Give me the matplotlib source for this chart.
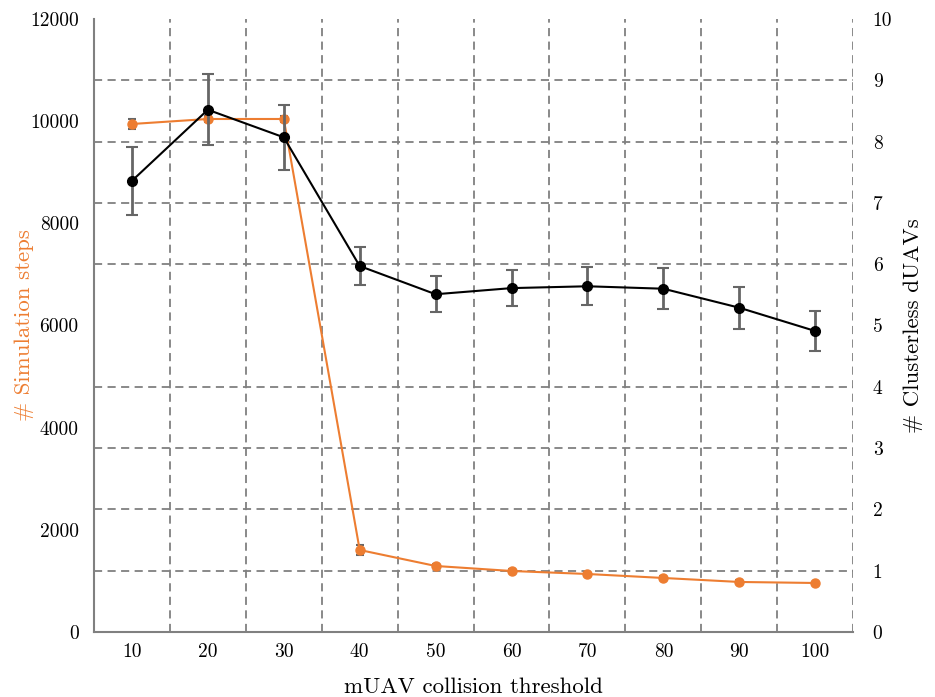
import numpy as np
import matplotlib
matplotlib.use('Agg')
import matplotlib.pyplot as plt

# collision thresholds on the x axis
thresholds = [10, 20, 30, 40, 50, 60, 70, 80, 90, 100]

# simulation steps (left axis) with std
sim_steps = [9945, 10043, 10043, 1605, 1292, 1194, 1135, 1057, 979, 959]
sim_steps_err = [100, 60, 60, 90, 40, 30, 30, 40, 30, 20]

# clusterless dUAVs (right axis) with std
clusterless = [7.36, 8.52, 8.07, 5.97, 5.51, 5.61, 5.64, 5.60, 5.29, 4.91]
clusterless_err = [0.55, 0.58, 0.53, 0.31, 0.29, 0.30, 0.31, 0.33, 0.34, 0.33]

left_ticks = [0, 2000, 4000, 6000, 8000, 10000, 12000]
right_ticks = [0, 1, 2, 3, 4, 5, 6, 7, 8, 9, 10]

orange = '#ED7D31'
grid_gray = '#808080'

plt.rcParams['font.family'] = ['cmr10', 'DejaVu Serif']
plt.rcParams['axes.formatter.use_mathtext'] = True
plt.rcParams['mathtext.fontset'] = 'cm'

fig = plt.figure(figsize=(9.35, 6.97), dpi=100)
ax1 = fig.add_axes([0.1005, 0.0933, 0.812, 0.8794])
x = np.arange(len(thresholds))

ax1.set_xlim(-0.5, len(thresholds) - 0.5)
ax1.set_ylim(0, 12000)
ax1.set_xticks(x)
ax1.set_xticklabels([str(t) for t in thresholds])
ax1.set_yticks(left_ticks)
ax1.set_yticklabels([str(t) for t in left_ticks])

# dashed grid: vertical between categories, horizontal on right-axis units
ax1.set_xticks(list(x[:-1] + 0.5) + [len(thresholds) - 0.5], minor=True)
ax1.set_yticks(np.arange(1200, 12001, 1200), minor=True)
ax1.grid(False)
ax1.grid(True, which='minor', color=grid_gray, linestyle=(0, (4.5, 3)), linewidth=1.3)
ax1.tick_params(which='both', length=0)
ax1.tick_params(axis='y', pad=11, labelsize=14)
ax1.tick_params(axis='x', pad=8, labelsize=14)
ax1.set_axisbelow(True)

for side in ['top', 'right']:
    ax1.spines[side].set_visible(False)
for side in ['left', 'bottom']:
    ax1.spines[side].set_color(grid_gray)
    ax1.spines[side].set_linewidth(1.5)

ax1.errorbar(x, sim_steps, yerr=sim_steps_err, color=orange, marker='o',
             markersize=6.5, linewidth=1.5, ecolor='#666666', elinewidth=2,
             capsize=3, capthick=1.5, zorder=3)
ax1.set_ylabel('# Simulation steps', color=orange, fontsize=16.5)
ax1.yaxis.set_label_coords(-0.079, 0.5)
ax1.set_xlabel('mUAV collision threshold', fontsize=16.5)
ax1.xaxis.set_label_coords(0.5, -0.074)

ax2 = ax1.twinx()
ax2.set_ylim(0, 10)
ax2.set_yticks(right_ticks)
ax2.set_yticklabels([str(t) for t in right_ticks])
ax2.tick_params(length=0, pad=14, labelsize=14)
for side in ['top', 'right', 'left', 'bottom']:
    ax2.spines[side].set_visible(False)

ax2.errorbar(x, clusterless, yerr=clusterless_err, color='black', marker='o',
             markersize=7, linewidth=1.5, ecolor='#666666', elinewidth=2,
             capsize=4, capthick=1.5, zorder=3)
ax2.set_ylabel('# Clusterless dUAVs', fontsize=16.5)
ax2.yaxis.set_label_coords(1.066, 0.5)

fig.savefig('out.png', dpi=100)
